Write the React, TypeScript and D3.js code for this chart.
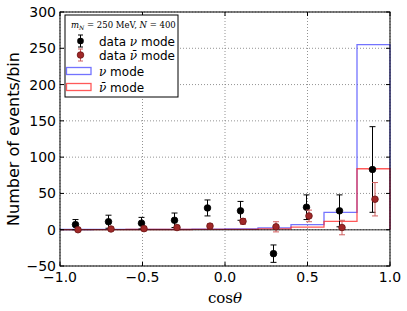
import * as d3 from "d3";

// bin edges and centres
const edges = d3.range(11).map((i) => -1 + i * 0.2);
const centers = d3.range(10).map((i) => -0.9 + i * 0.2);

// expected events per bin (step histograms)
const nuMode = [0.3, 0.4, 0.5, 0.6, 0.8, 1.2, 2.5, 7, 24, 255];
const nubarMode = [0.2, 0.2, 0.3, 0.3, 0.4, 0.5, 1.2, 3.5, 11.5, 84];

// pseudo data with errors
const dataNu = [7, 11, 9, 13, 30, 26, -33, 31, 26, 83];
const dataNuErr = [7, 9, 8, 10, 11, 13, 12, 17, 22, 59];
const dataNubar = [0, 1, 1.5, 3, 5, 11.5, 4, 19, 3, 42];
const dataNubarErr = [2, 2.5, 3, 3, 3, 4, 7, 8, 10, 23];

const xTicks = [-1, -0.5, 0, 0.5, 1];
const yTicks = [-50, 0, 50, 100, 150, 200, 250, 300];

const W = 407;
const H = 311;
const M = { top: 12, right: 17, bottom: 45, left: 60 };

export default function App() {
  const x = d3.scaleLinear().domain([-1, 1]).range([M.left, W - M.right]);
  const y = d3.scaleLinear().domain([-50, 300]).range([H - M.bottom, M.top]);

  const line = d3
    .line<[number, number]>()
    .x((d) => x(d[0]))
    .y((d) => y(d[1]));

  const stepPoints = (vals: number[]) => {
    const pts: [number, number][] = [[-1, 0]];
    vals.forEach((v, i) => {
      pts.push([edges[i], v]);
      pts.push([edges[i + 1], v]);
    });
    pts.push([1, 0]);
    return pts;
  };

  const fmt = (t: number) => (t < 0 ? "\u2212" : "") + Math.abs(t).toString();
  const fmtX = (t: number) => (t < 0 ? "\u2212" : "") + Math.abs(t).toFixed(1);

  const errBars = (
    vals: number[],
    errs: number[],
    stroke: string,
    fill: string,
    edge: string,
    dx: number
  ) =>
    vals.map((v, i) => {
      const cx = x(centers[i]) + dx;
      const y0 = y(v - errs[i]);
      const y1 = y(v + errs[i]);
      return (
        <g key={i}>
          <line x1={cx} x2={cx} y1={y0} y2={y1} stroke={stroke} strokeWidth={1} />
          <line x1={cx - 3} x2={cx + 3} y1={y0} y2={y0} stroke={stroke} strokeWidth={1} />
          <line x1={cx - 3} x2={cx + 3} y1={y1} y2={y1} stroke={stroke} strokeWidth={1} />
          <circle cx={cx} cy={y(v)} r={3.3} fill={fill} stroke={edge} strokeWidth={0.8} />
        </g>
      );
    });

  const font = "'DejaVu Sans', sans-serif";

  return (
    <svg width={W} height={H} style={{ position: "absolute", left: 0, top: 0, background: "#fff" }}>
      <rect x={0} y={0} width={W} height={H} fill="#fff" />
      {/* grid */}
      {xTicks.map((t) => (
        <line key={"gx" + t} x1={x(t)} x2={x(t)} y1={M.top} y2={H - M.bottom} stroke="#777" strokeWidth={0.8} strokeDasharray="1,2" />
      ))}
      {yTicks.map((t) => (
        <line key={"gy" + t} x1={M.left} x2={W - M.right} y1={y(t)} y2={y(t)} stroke="#777" strokeWidth={0.8} strokeDasharray="1,2" />
      ))}
      {/* histograms */}
      <path d={line(stepPoints(nuMode)) || ""} fill="none" stroke="#4444ff" strokeOpacity={0.75} strokeWidth={1.3} />
      <path d={line(stepPoints(nubarMode)) || ""} fill="none" stroke="#ff2222" strokeOpacity={0.75} strokeWidth={1.3} />
      {/* zero line */}
      <line x1={M.left} x2={W - M.right} y1={y(0)} y2={y(0)} stroke="#000" strokeOpacity={0.55} strokeWidth={1.5} />
      {/* data */}
      {errBars(dataNu, dataNuErr, "#000", "#000", "#000", -1)}
      {errBars(dataNubar, dataNubarErr, "#d06060", "#a02828", "#6a1414", 1.5)}
      {/* frame */}
      <rect x={M.left} y={M.top} width={W - M.left - M.right} height={H - M.top - M.bottom} fill="none" stroke="#000" strokeWidth={1} />
      {/* ticks */}
      {xTicks.map((t) => (
        <g key={"tx" + t}>
          <line x1={x(t)} x2={x(t)} y1={H - M.bottom} y2={H - M.bottom - 4} stroke="#000" />
          <line x1={x(t)} x2={x(t)} y1={M.top} y2={M.top + 4} stroke="#000" />
          <text x={x(t)} y={H - M.bottom + 16} textAnchor="middle" fontFamily={font} fontSize={14}>
            {fmtX(t)}
          </text>
        </g>
      ))}
      {yTicks.map((t) => (
        <g key={"ty" + t}>
          <line x1={M.left} x2={M.left + 4} y1={y(t)} y2={y(t)} stroke="#000" />
          <line x1={W - M.right} x2={W - M.right - 4} y1={y(t)} y2={y(t)} stroke="#000" />
          <text x={M.left - 4} y={y(t) + 5} textAnchor="end" fontFamily={font} fontSize={14}>
            {fmt(t)}
          </text>
        </g>
      ))}
      {/* axis labels */}
      <text transform={`translate(19,${(M.top + H - M.bottom) / 2}) rotate(-90)`} textAnchor="middle" fontFamily={font} fontSize={16}>
        Number of events/bin
      </text>
      <text x={x(0)} y={H - 8} textAnchor="middle" fontFamily="'DejaVu Serif', serif" fontSize={15}>
        cos<tspan fontStyle="italic">θ</tspan>
      </text>
      {/* legend */}
      <g>
        <rect x={65} y={15} width={113} height={82} fill="#fff" stroke="#000" strokeWidth={1} />
        <text x={71} y={28} fontFamily="'DejaVu Serif', serif" fontSize={8.5}>
          <tspan fontStyle="italic">m</tspan>
          <tspan fontStyle="italic" fontSize={6} dy={2}>N</tspan>
          <tspan dy={-2}> = 250 MeV, </tspan>
          <tspan fontStyle="italic">N</tspan>
          <tspan> = 400</tspan>
        </text>
        {/* data nu */}
        <line x1={80.5} x2={80.5} y1={35} y2={47} stroke="#000" />
        <line x1={78} x2={83} y1={35} y2={35} stroke="#000" />
        <line x1={78} x2={83} y1={47} y2={47} stroke="#000" />
        <circle cx={80.5} cy={41} r={3.3} fill="#000" />
        <text x={99} y={45.5} fontFamily={font} fontSize={12}>
          data <tspan fontFamily="'DejaVu Serif', serif" fontStyle="italic">ν</tspan> mode
        </text>
        {/* data nubar */}
        <line x1={80.5} x2={80.5} y1={49} y2={61} stroke="#d06060" />
        <line x1={78} x2={83} y1={49} y2={49} stroke="#d06060" />
        <line x1={78} x2={83} y1={61} y2={61} stroke="#d06060" />
        <circle cx={80.5} cy={55} r={3.3} fill="#a02828" stroke="#6a1414" strokeWidth={0.8} />
        <text x={99} y={59.5} fontFamily={font} fontSize={12}>
          data <tspan fontFamily="'DejaVu Serif', serif" fontStyle="italic">ν̄</tspan> mode
        </text>
        {/* nu mode */}
        <rect x={66.5} y={67.5} width={24.5} height={7} fill="none" stroke="#4444ff" strokeOpacity={0.75} strokeWidth={1.3} />
        <text x={99} y={75.5} fontFamily={font} fontSize={12}>
          <tspan fontFamily="'DejaVu Serif', serif" fontStyle="italic">ν</tspan> mode
        </text>
        {/* nubar mode */}
        <rect x={66.5} y={83.5} width={24.5} height={7} fill="none" stroke="#ff2222" strokeOpacity={0.75} strokeWidth={1.3} />
        <text x={99} y={91.5} fontFamily={font} fontSize={12}>
          <tspan fontFamily="'DejaVu Serif', serif" fontStyle="italic">ν̄</tspan> mode
        </text>
      </g>
    </svg>
  );
}
